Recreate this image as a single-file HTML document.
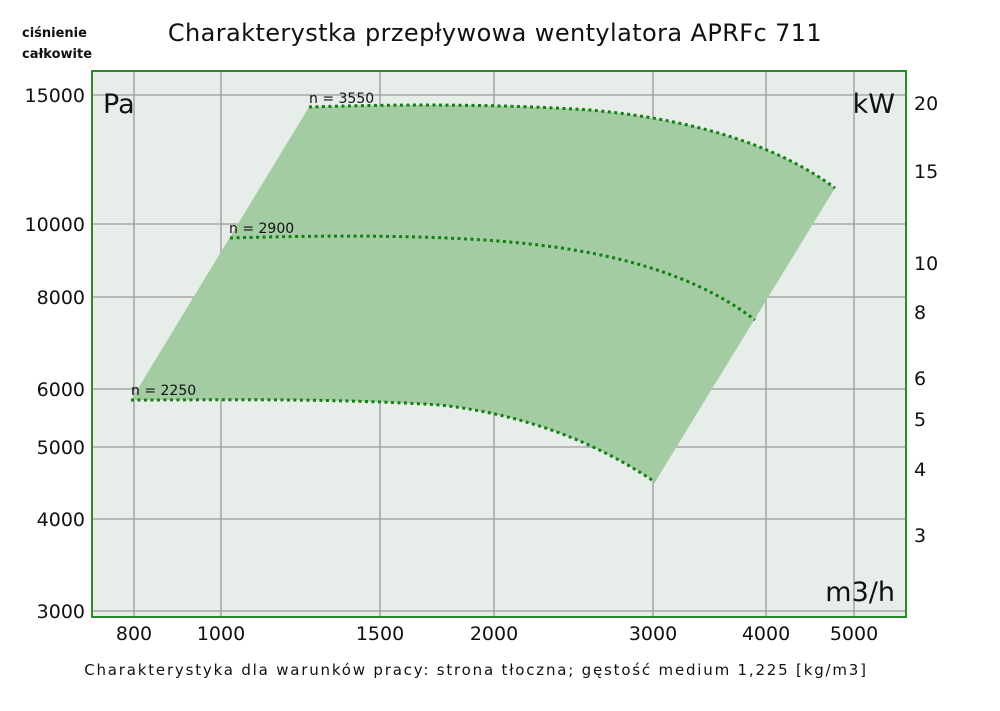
<!DOCTYPE html>
<html><head><meta charset="utf-8"><style>
body{margin:0;background:#fff;width:1000px;height:706px;overflow:hidden}
svg text{font-family:"DejaVu Sans","Liberation Sans",sans-serif;fill:#111}
</style></head><body>
<svg width="1000" height="706" viewBox="0 0 1000 706">
<rect x="92" y="71" width="814" height="546" fill="#e7ede9" stroke="#2a8a2a" stroke-width="2"/>
<g stroke="#9a9a9a" stroke-width="1.3">
<line x1="93" x2="905" y1="95" y2="95"/><line x1="93" x2="905" y1="224" y2="224"/>
<line x1="93" x2="905" y1="297" y2="297"/><line x1="93" x2="905" y1="389" y2="389"/>
<line x1="93" x2="905" y1="447" y2="447"/><line x1="93" x2="905" y1="519" y2="519"/>
<line x1="93" x2="905" y1="611" y2="611"/>
<line x1="134" x2="134" y1="72" y2="616"/><line x1="221" x2="221" y1="72" y2="616"/>
<line x1="380" x2="380" y1="72" y2="616"/><line x1="494" x2="494" y1="72" y2="616"/>
<line x1="653" x2="653" y1="72" y2="616"/><line x1="766" x2="766" y1="72" y2="616"/>
<line x1="854" x2="854" y1="72" y2="616"/>
</g>
<path d="M131,400 L309,107 C400,104 500,104 590,110 C680,118 770,140 835,188 L655,482 C600,445 530,415 440,405 C330,398 220,400 131,400 Z" fill="#a3cca3"/>
<g fill="none" stroke="#118011" stroke-width="3" stroke-dasharray="3,3.5">
<path d="M309,107 C400,104 500,104 590,110 C680,118 770,140 835,188"/>
<path d="M230,238 C330,235 430,235 510,242 C600,250 690,270 755,320"/>
<path d="M131,400 C220,400 330,398 440,405 C530,415 600,445 655,482"/>
</g>
<text x="131" y="395" font-size="14">n = 2250</text>
<text x="229" y="233" font-size="14">n = 2900</text>
<text x="309" y="103" font-size="14">n = 3550</text>
<text x="103" y="113" font-size="27">Pa</text>
<text x="895" y="113" font-size="27" text-anchor="end">kW</text>
<text x="895" y="601" font-size="27" text-anchor="end">m3/h</text>
<g font-size="19" text-anchor="end">
<text x="85" y="102">15000</text><text x="85" y="231">10000</text><text x="85" y="304">8000</text>
<text x="85" y="396">6000</text><text x="85" y="454">5000</text><text x="85" y="526">4000</text>
<text x="85" y="618">3000</text></g>
<g font-size="19">
<text x="914" y="110">20</text><text x="914" y="178">15</text><text x="914" y="270">10</text>
<text x="914" y="319">8</text><text x="914" y="385">6</text><text x="914" y="426">5</text>
<text x="914" y="476">4</text><text x="914" y="542">3</text></g>
<g font-size="19" text-anchor="middle">
<text x="134" y="640">800</text><text x="221" y="640">1000</text><text x="380" y="640">1500</text>
<text x="494" y="640">2000</text><text x="653" y="640">3000</text><text x="766" y="640">4000</text>
<text x="854" y="640">5000</text></g>
<text x="22" y="37" font-size="13" font-weight="bold">ciśnienie</text>
<text x="22" y="58" font-size="13" font-weight="bold">całkowite</text>
<text x="495" y="41" font-size="24" text-anchor="middle" letter-spacing="0.4">Charakterystka przepływowa wentylatora APRFc 711</text>
<text x="476" y="675" font-size="15" text-anchor="middle" letter-spacing="1.8">Charakterystyka dla warunków pracy: strona tłoczna; gęstość medium 1,225 [kg/m3]</text>
</svg>
</body></html>
